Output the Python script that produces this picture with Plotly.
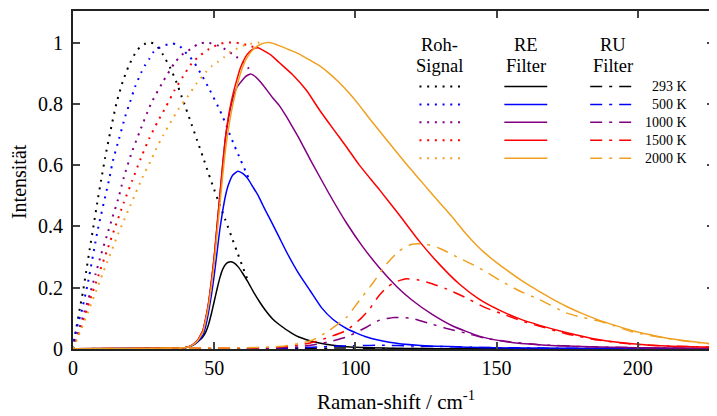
import plotly.graph_objects as go

# ---------------- data ----------------
temps = ["293 K", "500 K", "1000 K", "1500 K", "2000 K"]
colors = ["#000000", "#0000ff", "#800080", "#ff0000", "#f0a020"]

# raw signal (Roh-Signal), dotted
raw_293_x = [0, 1.2, 2.4, 3.5, 4.7, 5.9, 7.3, 8.6, 10, 11.4, 13.1, 15.4, 17.7, 19.7, 21.9, 23.7, 25.8, 27.1, 28.4, 30, 31.9, 34.5, 36.7, 38.5, 40, 42, 44, 46, 48, 50, 52, 54, 56, 58, 60, 62]
raw_293_y = [0.0, 0.07, 0.132, 0.185, 0.255, 0.325, 0.403, 0.478, 0.553, 0.625, 0.704, 0.802, 0.875, 0.923, 0.963, 0.985, 0.997, 1.0, 0.997, 0.985, 0.96, 0.916, 0.869, 0.823, 0.785, 0.733, 0.68, 0.627, 0.573, 0.52, 0.47, 0.42, 0.37, 0.32, 0.27, 0.222]
raw_500_x = [0, 0.6, 2.1, 2.9, 5.3, 8.8, 13, 14.1, 16.3, 18.5, 20.2, 22, 24.1, 25.4, 26.9, 28.3, 30.4, 32.6, 35, 37.5, 39.6, 41.5, 43.1, 45.7, 48.4, 51.9, 53.1, 55.1, 57.2, 59.4, 61.6, 62.8]
raw_500_y = [0.0, 0.04, 0.094, 0.117, 0.217, 0.39, 0.562, 0.613, 0.686, 0.759, 0.806, 0.856, 0.901, 0.924, 0.945, 0.967, 0.982, 0.991, 0.997, 0.991, 0.97, 0.952, 0.932, 0.892, 0.846, 0.781, 0.756, 0.71, 0.663, 0.616, 0.57, 0.545]
raw_1000_x = [0, 2, 4, 6, 8, 10, 12, 14, 16, 18, 20.6, 23.6, 27.6, 31.6, 35.9, 38.5, 41.9, 44.3, 46.6, 49.2, 51.7, 54.8, 57.8, 60, 62, 63.2]
raw_1000_y = [0.0, 0.06, 0.12, 0.18, 0.245, 0.31, 0.37, 0.43, 0.49, 0.56, 0.636, 0.709, 0.8, 0.868, 0.932, 0.96, 0.98, 0.995, 1.0, 0.997, 0.989, 0.973, 0.954, 0.938, 0.918, 0.9]
raw_1500_x = [0, 3, 6, 9, 12, 15, 18, 21, 24, 27, 30, 33, 36, 39, 42, 45, 48, 51, 54, 57, 60, 63, 64.5]
raw_1500_y = [0.0, 0.075, 0.16, 0.24, 0.32, 0.4, 0.478, 0.55, 0.622, 0.687, 0.742, 0.792, 0.845, 0.89, 0.932, 0.958, 0.978, 0.992, 1.0, 1.0, 0.996, 0.988, 0.984]
raw_2000_x = [0, 2, 5.3, 8.2, 12.1, 16.1, 20.4, 24.7, 27.3, 29.4, 32, 34.7, 37.5, 40.7, 43.9, 47.2, 49.3, 51.3, 53.5, 55.5, 57.8, 60, 63, 66]
raw_2000_y = [0.0, 0.045, 0.12, 0.19, 0.284, 0.378, 0.47, 0.562, 0.61, 0.652, 0.698, 0.742, 0.785, 0.825, 0.868, 0.905, 0.924, 0.937, 0.952, 0.968, 0.979, 0.989, 0.996, 1.0]

# RE filter, solid
re_293_x = [0, 20, 35, 40, 42, 44, 45, 46, 47, 48, 49, 50, 51, 52, 53, 54, 55, 55.8, 57, 58.5, 60, 62, 64, 66, 68, 70.7, 73, 77.7, 80, 86, 92, 97, 105, 115, 130, 227]
re_293_y = [0.001, 0.002, 0.003, 0.005, 0.01, 0.022, 0.03, 0.04, 0.055, 0.08, 0.115, 0.155, 0.195, 0.232, 0.26, 0.276, 0.283, 0.285, 0.281, 0.268, 0.248, 0.218, 0.185, 0.155, 0.128, 0.098, 0.08, 0.05, 0.039, 0.022, 0.012, 0.007, 0.004, 0.002, 0.001, 0.0]
re_500_x = [0, 20, 35, 40, 42, 44, 46, 47, 48, 49, 50, 51, 52, 53, 54, 55, 56.6, 58.4, 60.2, 61.9, 63.7, 65.5, 67.2, 68.4, 70, 73, 76, 80, 84, 88, 92, 97, 104, 112, 122, 139, 160, 190, 227]
re_500_y = [0.001, 0.002, 0.003, 0.005, 0.01, 0.022, 0.045, 0.075, 0.12, 0.175, 0.24, 0.315, 0.39, 0.45, 0.5, 0.535, 0.568, 0.58, 0.572, 0.556, 0.529, 0.502, 0.47, 0.448, 0.42, 0.365, 0.31, 0.245, 0.19, 0.135, 0.097, 0.066, 0.039, 0.022, 0.012, 0.006, 0.003, 0.002, 0.001]
re_1000_x = [0, 20, 35, 40, 42, 44, 46, 47, 48, 49, 50, 51, 52, 53, 54, 55, 56, 57, 58, 59, 59.6, 61, 62, 63.1, 64.9, 66.7, 68.4, 70.7, 73, 75.6, 78, 80.2, 84.5, 90.8, 96.8, 102.5, 108.5, 114.5, 120, 127.2, 134.3, 143.8, 153.4, 165, 180, 200, 227]
re_1000_y = [0.001, 0.002, 0.003, 0.005, 0.012, 0.027, 0.06, 0.1, 0.15, 0.22, 0.3, 0.4, 0.5, 0.6, 0.69, 0.75, 0.795, 0.83, 0.853, 0.866, 0.873, 0.888, 0.894, 0.897, 0.886, 0.868, 0.848, 0.82, 0.795, 0.758, 0.72, 0.685, 0.61, 0.505, 0.412, 0.335, 0.265, 0.205, 0.16, 0.113, 0.076, 0.042, 0.024, 0.014, 0.008, 0.004, 0.002]
re_1500_x = [0, 20, 35, 40, 42, 44, 46, 47, 48, 49, 50, 51, 52, 53, 54, 55, 56, 57, 58, 59, 60, 61, 62.5, 64, 65.5, 67.8, 70, 73, 77.8, 82.6, 87.3, 92, 96.8, 101.4, 108.5, 115.5, 122.6, 129.7, 136.7, 143.8, 151, 158, 165, 174.6, 186, 198, 210, 227]
re_1500_y = [0.001, 0.002, 0.003, 0.005, 0.012, 0.027, 0.06, 0.1, 0.15, 0.22, 0.3, 0.4, 0.5, 0.6, 0.69, 0.755, 0.805, 0.845, 0.878, 0.91, 0.933, 0.952, 0.97, 0.98, 0.983, 0.972, 0.96, 0.935, 0.895, 0.845, 0.78, 0.72, 0.66, 0.6, 0.52, 0.438, 0.352, 0.277, 0.213, 0.163, 0.127, 0.099, 0.078, 0.054, 0.031, 0.017, 0.01, 0.006]
re_2000_x = [0, 20, 35, 40, 42, 44, 46, 47, 48, 49, 50, 51, 52, 53, 54, 55, 56, 57, 58, 59, 60, 61, 62.5, 64, 66, 68, 69.6, 73, 77, 80, 84, 87, 90, 94, 98, 101, 105, 108.5, 112, 115.5, 119, 122.6, 126, 130, 134, 139, 143, 146, 150, 154, 158, 162, 166, 170, 175, 180, 186, 192, 198, 204, 210, 216, 222, 227]
re_2000_y = [0.001, 0.002, 0.003, 0.005, 0.011, 0.025, 0.055, 0.093, 0.14, 0.205, 0.28, 0.375, 0.47, 0.565, 0.65, 0.715, 0.77, 0.815, 0.855, 0.89, 0.918, 0.94, 0.963, 0.979, 0.992, 0.999, 1.0, 0.99, 0.975, 0.963, 0.942, 0.926, 0.905, 0.872, 0.833, 0.8, 0.752, 0.712, 0.672, 0.632, 0.593, 0.555, 0.518, 0.476, 0.434, 0.378, 0.338, 0.312, 0.282, 0.255, 0.229, 0.205, 0.183, 0.162, 0.138, 0.117, 0.095, 0.077, 0.06, 0.047, 0.036, 0.028, 0.021, 0.016]

# RU filter, dash-dot
ru_293_x = [0, 60, 80, 95, 110, 130, 227]
ru_293_y = [0.0, 0.001, 0.002, 0.003, 0.002, 0.001, 0.0]
ru_500_x = [0, 60, 80, 90, 100, 110, 120, 130, 145, 165, 227]
ru_500_y = [0.0, 0.001, 0.004, 0.008, 0.011, 0.012, 0.01, 0.008, 0.005, 0.003, 0.001]
ru_1000_x = [0, 30, 60, 70, 80, 88, 96.8, 103.9, 108.5, 113.8, 120, 126, 132, 139, 146, 155, 165, 180, 200, 227]
ru_1000_y = [0.001, 0.001, 0.002, 0.003, 0.007, 0.018, 0.039, 0.071, 0.094, 0.103, 0.1, 0.084, 0.068, 0.052, 0.035, 0.023, 0.014, 0.008, 0.004, 0.002]
ru_1500_x = [0, 30, 60, 70, 75, 80, 85, 90.8, 96.8, 102, 105, 108, 111, 114, 118, 122, 126, 132, 139, 146, 153.4, 160.4, 165, 174.6, 186, 198, 210, 227]
ru_1500_y = [0.001, 0.002, 0.003, 0.005, 0.008, 0.013, 0.022, 0.039, 0.061, 0.1, 0.13, 0.17, 0.2, 0.218, 0.229, 0.226, 0.216, 0.197, 0.168, 0.135, 0.11, 0.087, 0.075, 0.05, 0.029, 0.016, 0.01, 0.006]
ru_2000_x = [0, 30, 60, 70, 75, 80, 84.8, 90.8, 96.8, 101.4, 106, 111, 115.5, 120, 125, 129.7, 136.7, 143.8, 151, 158, 165, 174.6, 180, 186, 192, 198, 210, 222, 227]
ru_2000_y = [0.001, 0.002, 0.004, 0.006, 0.01, 0.018, 0.029, 0.061, 0.103, 0.158, 0.213, 0.277, 0.32, 0.342, 0.342, 0.329, 0.297, 0.265, 0.225, 0.19, 0.162, 0.118, 0.104, 0.092, 0.075, 0.056, 0.035, 0.02, 0.016]

raw_x = [raw_293_x, raw_500_x, raw_1000_x, raw_1500_x, raw_2000_x]
raw_y = [raw_293_y, raw_500_y, raw_1000_y, raw_1500_y, raw_2000_y]
re_x = [re_293_x, re_500_x, re_1000_x, re_1500_x, re_2000_x]
re_y = [re_293_y, re_500_y, re_1000_y, re_1500_y, re_2000_y]
ru_x = [ru_293_x, ru_500_x, ru_1000_x, ru_1500_x, ru_2000_x]
ru_y = [ru_293_y, ru_500_y, ru_1000_y, ru_1500_y, ru_2000_y]

x_ticks = [0, 50, 100, 150, 200]
y_ticks = [0, 0.2, 0.4, 0.6, 0.8, 1]

DOT = "2px,5.7px"
DASHDOT = "12px,7px,3px,7px"
FONT = "Liberation Serif, Times New Roman, serif"

fig = go.Figure()
for i, t in enumerate(temps):
    c = colors[i]
    fig.add_trace(go.Scatter(x=raw_x[i], y=raw_y[i], mode="lines", name="Roh " + t,
                             line=dict(color=c, width=2, dash=DOT, shape="spline", smoothing=0.6)))
    fig.add_trace(go.Scatter(x=re_x[i], y=re_y[i], mode="lines", name="RE " + t,
                             line=dict(color=c, width=1.5, shape="spline", smoothing=0.5)))
    fig.add_trace(go.Scatter(x=ru_x[i], y=ru_y[i], mode="lines", name="RU " + t,
                             line=dict(color=c, width=1.5, dash=DASHDOT, shape="spline", smoothing=0.5)))

# ---- page geometry (the page body has an 8px margin) ----
OFF = 8
FIG_W, FIG_H = 709, 408
L, R, T, B = 73, 715, 9, 349          # plot area in page pixels
W, H = R - L, B - T


def px(xp):
    return (xp - L) / W


def py(yp):
    return (B - yp) / H


row_y = [85, 103, 121, 139, 157]
shapes = []
annotations = []
for i, t in enumerate(temps):
    c = colors[i]
    yy = py(row_y[i])
    shapes.append(dict(type="line", xref="paper", yref="paper", x0=px(420), x1=px(463), y0=yy, y1=yy,
                       line=dict(color=c, width=2, dash=DOT)))
    shapes.append(dict(type="line", xref="paper", yref="paper", x0=px(505), x1=px(548), y0=yy, y1=yy,
                       line=dict(color=c, width=1.5)))
    shapes.append(dict(type="line", xref="paper", yref="paper", x0=px(591), x1=px(634), y0=yy, y1=yy,
                       line=dict(color=c, width=1.5, dash=DASHDOT)))
    annotations.append(dict(text=t, xref="paper", yref="paper", x=px(690), y=yy, xanchor="right",
                            yanchor="middle", showarrow=False, font=dict(family=FONT, size=14, color="#000")))

headers = [("Roh-", "Signal", 440), ("RE", "Filter", 527), ("RU", "Filter", 614)]
for top, bottom, cx in headers:
    annotations.append(dict(text=top, xref="paper", yref="paper", x=px(cx), y=py(43), xanchor="center",
                            yanchor="middle", showarrow=False,
                            font=dict(family=FONT, size=18.5, color="#000")))
    annotations.append(dict(text=bottom, xref="paper", yref="paper", x=px(cx), y=py(64), xanchor="center",
                            yanchor="middle", showarrow=False,
                            font=dict(family=FONT, size=18.5, color="#000")))

annotations.append(dict(text="Intensität", xref="paper", yref="paper", x=px(19), y=py(181),
                        textangle=-90, xanchor="center", yanchor="middle", showarrow=False,
                        font=dict(family=FONT, size=20, color="#000")))
annotations.append(dict(text="Raman-shift / cm<sup>-1</sup>", xref="paper", yref="paper", x=px(397), y=py(401),
                        xanchor="center", yanchor="middle", showarrow=False,
                        font=dict(family=FONT, size=21, color="#000")))

fig.update_layout(
    width=FIG_W, height=FIG_H,
    margin=dict(l=L - OFF, r=OFF + FIG_W - R, t=T - OFF, b=OFF + FIG_H - B, pad=0),
    paper_bgcolor="white", plot_bgcolor="white",
    showlegend=False,
    font=dict(family=FONT, size=20, color="#000"),
    shapes=shapes, annotations=annotations,
)
fig.update_xaxes(range=[0, 227], tickvals=x_ticks, ticks="inside", ticklen=7, tickwidth=2,
                 showline=True, linecolor="#222", linewidth=2, mirror="ticks", showgrid=False,
                 zeroline=False, tickfont=dict(family=FONT, size=20))
fig.update_yaxes(range=[0, 1.103], tickvals=y_ticks, ticks="inside", ticklen=7, tickwidth=2,
                 showline=True, linecolor="#222", linewidth=2, mirror="ticks", showgrid=False,
                 zeroline=False, tickfont=dict(family=FONT, size=20), ticklabelstandoff=4)

fig.write_html("out.html")
